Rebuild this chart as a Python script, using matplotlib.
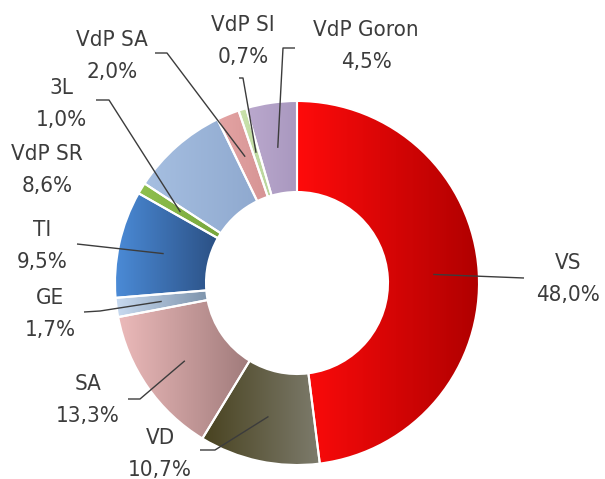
#!/usr/bin/env python3
"""
Donut chart of shares with per-slice horizontal gradients and leader labels
"""

import numpy as np
import matplotlib
matplotlib.use("Agg")
import matplotlib.pyplot as plt
from matplotlib.patches import Wedge
from matplotlib.colors import to_rgb

# Data (clockwise from 12 o'clock)
labels = ["VS", "VD", "SA", "GE", "TI", "3L", "VdP SR", "VdP SA", "VdP SI", "VdP Goron"]
shares = [48.0, 10.7, 13.3, 1.7, 9.5, 1.0, 8.6, 2.0, 0.7, 4.5]

# Gradient colours, left -> right
colors = [
    ("#ff0b0b", "#b00000"),
    ("#48421f", "#7d7b6c"),
    ("#ecbaba", "#a07b7b"),
    ("#c8daf0", "#7d93ab"),
    ("#4b8bd7", "#2b5084"),
    ("#8fc04e", "#78a63c"),
    ("#a6bfe1", "#8fa9cf"),
    ("#e4a4a4", "#d69494"),
    ("#cbe3ac", "#b7d39a"),
    ("#bba9ce", "#a998bf"),
]

# Label layout in pixels: text centre, leader line start and elbow
text_pos = [(568, 279), (160, 454), (88, 400), (50, 314), (42, 246),
            (61, 104), (47, 170), (112, 56), (243, 41), (366, 46)]
leaders = [[(524, 278)], [(200, 450), (215, 450)], [(128, 399), (140, 399)],
           [(84, 312), (100, 311)], [(77, 244)], [(96, 100), (109, 100)],
           None, [(155, 53), (167, 53)], [(239, 78), (243, 78)],
           [(295, 48), (283, 48)]]

cx, cy = 297, 283
R, W = 182, 91
text_color = "#3c3c3c"

fig = plt.figure(figsize=(6.05, 4.79), dpi=100)
ax = fig.add_axes([0, 0, 1, 1])

cum = 0.0
for lab, val, (c1, c2), tpos, lead in zip(labels, shares, colors, text_pos, leaders):
    t1 = -90 + cum * 3.6
    t2 = -90 + (cum + val) * 3.6
    mid = np.radians((t1 + t2) / 2)
    cum += val

    w = Wedge((cx, cy), R, t1, t2, width=W, transform=ax.transData,
              facecolor="none", edgecolor="white", linewidth=1.5, zorder=3)
    ax.add_patch(w)

    # gradient over the slice's horizontal extent
    th = np.radians(np.linspace(t1, t2, 200))
    xs = np.concatenate([cx + R * np.cos(th), cx + (R - W) * np.cos(th)])
    ys = np.concatenate([cy + R * np.sin(th), cy + (R - W) * np.sin(th)])
    grad = np.linspace(0, 1, 256)[None, :, None]
    img = (1 - grad) * np.array(to_rgb(c1)) + grad * np.array(to_rgb(c2))
    im = ax.imshow(img, extent=(xs.min(), xs.max(), ys.max(), ys.min()),
                   aspect="auto", interpolation="bilinear", zorder=2)
    im.set_clip_path(w)

    pct = f"{val:.1f}".replace(".", ",") + "%"
    ax.text(tpos[0], tpos[1], f"{lab}\n{pct}", ha="center", va="center",
            fontsize=16, color=text_color, family="DejaVu Sans",
            fontstretch="condensed", linespacing=1.7, zorder=5)

    if lead is not None:
        ar = R * 0.75
        anchor = (cx + ar * np.cos(mid), cy + ar * np.sin(mid))
        pts = lead + [anchor]
        ax.plot([p[0] for p in pts], [p[1] for p in pts], color=text_color,
                linewidth=1.0, zorder=4, solid_capstyle="butt")

ax.set_xlim(0, 605)
ax.set_ylim(479, 0)
ax.set_aspect("equal")
ax.axis("off")

fig.savefig("out.png", dpi=100, facecolor="white")
